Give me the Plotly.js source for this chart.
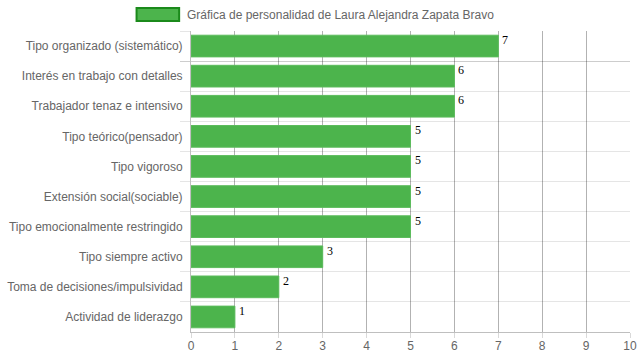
<!DOCTYPE html>
<html>
<head>
<meta charset="utf-8">
<script src="https://cdn.plot.ly/plotly-3.0.1.min.js"></script>
<style>html,body{margin:0;padding:0;background:#fff;}#chart{width:639px;height:360px;}</style>
</head>
<body>
<div id="chart"></div>
<script>
const categories = [
  "Tipo organizado (sistemático)",
  "Interés en trabajo con detalles",
  "Trabajador tenaz e intensivo",
  "Tipo teórico(pensador)",
  "Tipo vigoroso",
  "Extensión social(sociable)",
  "Tipo emocionalmente restringido",
  "Tipo siempre activo",
  "Toma de decisiones/impulsividad",
  "Actividad de liderazgo"
];
const values = [7, 6, 6, 5, 5, 5, 5, 3, 2, 1];
const seriesName = "Gráfica de personalidad de Laura Alejandra Zapata Bravo";
const xTicks = [0, 1, 2, 3, 4, 5, 6, 7, 8, 9, 10];

const trace = {
  type: "bar",
  orientation: "h",
  x: values,
  y: categories,
  width: 0.72,
  marker: {color: "#4cb44c", line: {color: "#5cbc5c", width: 1}},
  hoverinfo: "x+y",
  showlegend: false
};

const labelAnnotations = categories.map((c, i) => ({
  x: values[i], y: c, xref: "x", yref: "y",
  text: String(values[i]), showarrow: false,
  xanchor: "left", yanchor: "middle", xshift: 2, yshift: 6,
  font: {family: "Liberation Serif", size: 12, color: "#000000"}
}));

const layout = {
  width: 639, height: 360,
  margin: {l: 191, r: 9, t: 31, b: 28},
  paper_bgcolor: "#fff", plot_bgcolor: "#fff",
  font: {family: "Liberation Sans, Arial, sans-serif", size: 12, color: "#666"},
  xaxis: {
    range: [0, 10], tickvals: xTicks, ticktext: xTicks.map(String),
    showgrid: true, gridcolor: "rgba(0,0,0,0.3)", gridwidth: 1,
    zeroline: false, showline: true, linecolor: "rgba(0,0,0,0.25)",
    ticks: "outside", ticklen: 5, tickcolor: "rgba(0,0,0,0.15)",
    ticklabelstandoff: -2,
    tickfont: {size: 12, color: "#666"}, fixedrange: true
  },
  yaxis: {
    type: "category", autorange: "reversed",
    tickson: "boundaries", showgrid: true, gridcolor: "rgba(0,0,0,0.1)",
    ticks: "outside", ticklen: 10, tickcolor: "rgba(0,0,0,0.1)",
    ticklabelstandoff: 5,
    showline: true, linecolor: "rgba(0,0,0,0.25)",
    tickfont: {size: 12, color: "#666"}, fixedrange: true
  },
  bargap: 0.28,
  shapes: [{
    type: "rect", xref: "paper", yref: "paper",
    x0: -0.124, x1: -0.027, y0: 1.0 + 10/301, y1: 1.0 + 23/301,
    fillcolor: "#4cb44c", line: {color: "#1b8a1b", width: 2}
  }],
  annotations: labelAnnotations.concat([{
    xref: "paper", yref: "paper", x: -0.014, y: 1.0 + 16.5/301,
    xanchor: "left", yanchor: "middle", showarrow: false,
    text: seriesName, font: {size: 12, color: "#666"}
  }])
};

Plotly.newPlot("chart", [trace], layout, {displayModeBar: false, staticPlot: true});
</script>
</body>
</html>
